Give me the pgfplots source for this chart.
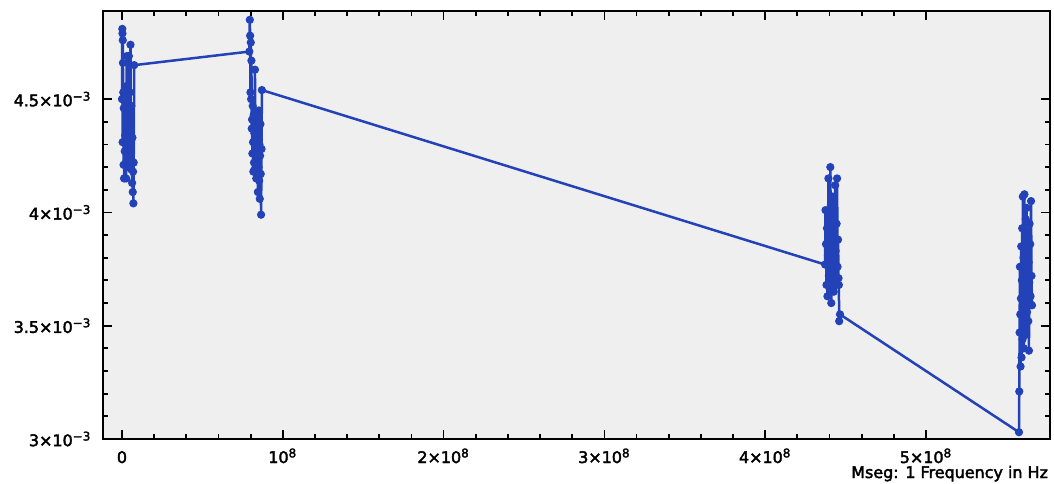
\documentclass[border=0pt]{standalone}
\usepackage{pgfplots}
\pgfplotsset{compat=1.18}
\usepackage{pgfplotstable}
\usepackage{fontspec}
\setmainfont{DejaVu Sans}
\newfontfamily\labelfont[FakeBold=2.5]{DejaVu Sans}

\definecolor{panel}{RGB}{239,239,239}
\definecolor{trace}{RGB}{36,66,184}
\newcommand{\sci}[2]{#1×10\textsuperscript{#2}}

% Measured value versus frequency (x in Hz, y in units of 1e-3)
\pgfplotstableread{
f        v
0.0e6    4.50
0.2e6    4.81
0.3e6    4.79
0.4e6    4.31
0.5e6    4.76
0.6e6    4.66
0.8e6    4.53
1.0e6    4.21
1.1e6    4.46
1.3e6    4.15
1.5e6    4.52
1.7e6    4.27
1.9e6    4.55
2.0e6    4.34
2.2e6    4.48
2.4e6    4.22
2.6e6    4.15
2.8e6    4.43
3.0e6    4.69
3.2e6    4.30
3.4e6    4.56
3.5e6    4.25
3.7e6    4.50
3.9e6    4.20
4.1e6    4.44
4.3e6    4.69
4.5e6    4.37
4.7e6    4.24
4.9e6    4.53
5.1e6    4.28
5.3e6    4.74
5.5e6    4.40
5.7e6    4.19
5.9e6    4.47
6.1e6    4.23
6.3e6    4.13
6.5e6    4.33
6.7e6    4.09
6.9e6    4.18
7.1e6    4.04
7.3e6    4.22
7.6e6    4.65
79.2e6   4.71
79.5e6   4.85
79.7e6   4.78
79.9e6   4.53
80.1e6   4.75
80.3e6   4.50
80.5e6   4.67
80.7e6   4.37
80.9e6   4.41
81.1e6   4.26
81.3e6   4.47
81.5e6   4.31
81.7e6   4.18
81.9e6   4.43
82.1e6   4.22
82.3e6   4.35
82.5e6   4.19
82.7e6   4.63
82.9e6   4.29
83.1e6   4.40
83.3e6   4.24
83.5e6   4.15
83.7e6   4.33
83.9e6   4.21
84.1e6   4.42
84.3e6   4.27
84.5e6   4.09
84.7e6   4.36
84.9e6   4.20
85.1e6   4.45
85.3e6   4.14
85.5e6   4.30
85.7e6   4.06
85.9e6   4.25
86.1e6   4.39
86.3e6   4.17
86.5e6   3.99
86.8e6   4.28
87.0e6   4.54
437.2e6  3.77
437.5e6  4.01
437.8e6  3.86
438.1e6  3.68
438.4e6  3.93
438.7e6  3.63
439.0e6  3.81
439.3e6  4.15
439.6e6  3.72
439.9e6  3.97
440.2e6  3.66
440.5e6  4.20
440.8e6  3.89
441.1e6  3.60
441.4e6  3.84
441.7e6  3.70
442.0e6  4.07
442.3e6  3.79
442.6e6  3.65
442.9e6  3.92
443.2e6  3.74
443.5e6  4.12
443.8e6  3.83
444.1e6  3.68
444.4e6  3.95
444.7e6  4.15
445.0e6  3.76
445.3e6  3.88
445.6e6  3.71
445.8e6  3.68
446.0e6  3.52
446.5e6  3.55
557.8e6  3.03
558.0e6  3.21
558.2e6  3.47
558.4e6  3.76
558.6e6  3.55
558.8e6  3.32
559.0e6  3.62
559.2e6  3.85
559.4e6  3.36
559.6e6  3.70
559.8e6  3.93
560.0e6  3.44
560.2e6  4.07
560.4e6  3.58
560.6e6  3.80
560.8e6  3.40
561.0e6  3.67
561.2e6  4.08
561.4e6  3.50
561.6e6  3.89
561.8e6  3.62
562.0e6  3.97
562.2e6  3.46
562.4e6  3.74
562.6e6  4.02
562.8e6  3.56
563.0e6  3.83
563.2e6  3.65
563.4e6  3.91
563.6e6  3.52
563.8e6  3.78
564.0e6  3.39
564.2e6  3.69
564.4e6  3.95
564.6e6  3.60
564.8e6  3.86
565.0e6  3.63
565.3e6  4.05
565.6e6  3.72
565.9e6  3.59
}\datatable

\begin{document}
\begin{tikzpicture}
\useasboundingbox (-51.5bp,-22.5bp) rectangle (475.5bp,219.5bp);
\begin{axis}[
  at={(0,0)}, anchor=south west,
  scale only axis,
  width=473.5bp, height=214bp,
  xmin=-1.18e7, xmax=5.771e8,
  ymin=3.0, ymax=4.889,
  axis background/.style={fill=panel},
  axis line style={black, line width=1.3bp},
  tick align=inside,
  major tick length=4.5bp,
  minor tick length=2.3bp,
  every tick/.style={black, line width=0.9bp},
  xtick={0,1e8,2e8,3e8,4e8,5e8},
  xticklabels={0, 10\textsuperscript{8}, \sci{2}{8}, \sci{3}{8}, \sci{4}{8}, \sci{5}{8}},
  minor x tick num=4,
  ytick={3.0,3.5,4.0,4.5},
  yticklabels={\sci{3}{−3}, \sci{3.5}{−3}, \sci{4}{−3}, \sci{4.5}{−3}},
  minor y tick num=4,
  scaled x ticks=false, scaled y ticks=false,
  tick label style={font=\labelfont\fontsize{8}{10}\selectfont},
  xticklabel style={anchor=base, yshift=-12bp},
  yticklabel style={xshift=-2.3bp},
  xlabel={Mseg: 1 Frequency in Hz},
  xlabel style={at={(rel axis cs:1,0)}, anchor=base east, yshift=-19.5bp,
    xshift=2.5bp, font=\labelfont\fontsize{8}{10}\selectfont},
]
\addplot[trace, line width=1.25bp, mark=*, mark size=1.4bp,
  mark options={fill=trace, draw=trace}] table[x=f, y=v] {\datatable};
\end{axis}
\end{tikzpicture}
\end{document}
